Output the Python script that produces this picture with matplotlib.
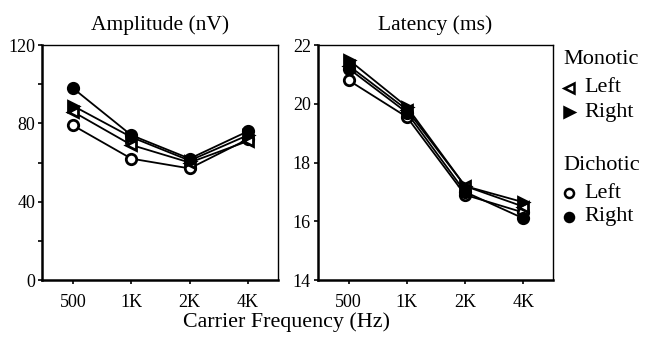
import matplotlib
matplotlib.use("Agg")
import matplotlib.pyplot as plt
from matplotlib.lines import Line2D

plt.rcParams["font.family"] = ["Liberation Serif", "DejaVu Serif"]

freqs = ["500", "1K", "2K", "4K"]

# Amplitude (nV)
amp_mono_left = [86, 69, 60, 71]
amp_mono_right = [89, 73, 61, 74]
amp_di_left = [79, 62, 57, 72]
amp_di_right = [98, 74, 62, 76]

# Latency (ms)
lat_mono_left = [21.3, 19.8, 17.2, 16.5]
lat_mono_right = [21.5, 19.9, 17.2, 16.65]
lat_di_left = [20.8, 19.55, 16.9, 16.3]
lat_di_right = [21.2, 19.7, 17.0, 16.1]

amp_ticks = [0, 40, 80, 120]
amp_minor = [20, 60, 100]
lat_ticks = [14, 16, 18, 20, 22]

STYLES = {
    "mono_left": dict(marker="<", mfc="white", mec="black"),
    "mono_right": dict(marker=">", mfc="black", mec="black"),
    "di_left": dict(marker="o", mfc="white", mec="black"),
    "di_right": dict(marker="o", mfc="black", mec="black"),
}


def draw_series(ax, series):
    x = range(len(freqs))
    for key, vals in series:
        ax.plot(x, vals, color="black", lw=1.3, ms=7.5, mew=2, **STYLES[key])


def style_axes(ax):
    ax.set_xlim(-0.53, 3.51)
    ax.set_xticks(range(len(freqs)))
    ax.set_xticklabels(freqs)
    for side in ["left", "bottom"]:
        ax.spines[side].set_linewidth(1.8)
    for side in ["top", "right"]:
        ax.spines[side].set_linewidth(1.0)
    ax.tick_params(axis="both", which="both", direction="out", length=3,
                   width=1.2, labelsize=13, pad=2)
    ax.tick_params(axis="x", pad=7)


fig = plt.figure(figsize=(6.46, 3.39), dpi=100)

ax1 = fig.add_axes([0.065, 0.174, 0.365, 0.693])
draw_series(ax1, [("di_left", amp_di_left), ("mono_left", amp_mono_left),
                  ("mono_right", amp_mono_right), ("di_right", amp_di_right)])
ax1.set_ylim(0, 120)
ax1.set_yticks(amp_ticks)
ax1.set_yticks(amp_minor, minor=True)
style_axes(ax1)
ax1.set_title("Amplitude (nV)", fontsize=15.5, pad=11)

ax2 = fig.add_axes([0.492, 0.174, 0.364, 0.693])
draw_series(ax2, [("di_left", lat_di_left), ("mono_left", lat_mono_left),
                  ("mono_right", lat_mono_right), ("di_right", lat_di_right)])
ax2.set_ylim(14, 22)
ax2.set_yticks(lat_ticks)
style_axes(ax2)
ax2.set_title("Latency (ms)", fontsize=15.5, pad=11)

fig.text(0.443, 1 - 322 / 339, "Carrier Frequency (Hz)", ha="center", va="center",
         fontsize=15.8)

# legend drawn by hand
legend_rows = [
    ("Monotic", None, 1 - 60 / 339),
    ("Left", "mono_left", 1 - 88 / 339),
    ("Right", "mono_right", 1 - 112 / 339),
    ("Dichotic", None, 1 - 165 / 339),
    ("Left", "di_left", 1 - 193 / 339),
    ("Right", "di_right", 1 - 217 / 339),
]
for label, key, y in legend_rows:
    if key is None:
        fig.text(563 / 646, y, label, ha="left", va="center", fontsize=16)
    else:
        fig.add_artist(Line2D([569 / 646], [y], transform=fig.transFigure,
                              ms=6.5, mew=1.8, ls="none", **STYLES[key]))
        fig.text(584 / 646, y, label, ha="left", va="center", fontsize=16)

fig.savefig("out.png", dpi=100)
